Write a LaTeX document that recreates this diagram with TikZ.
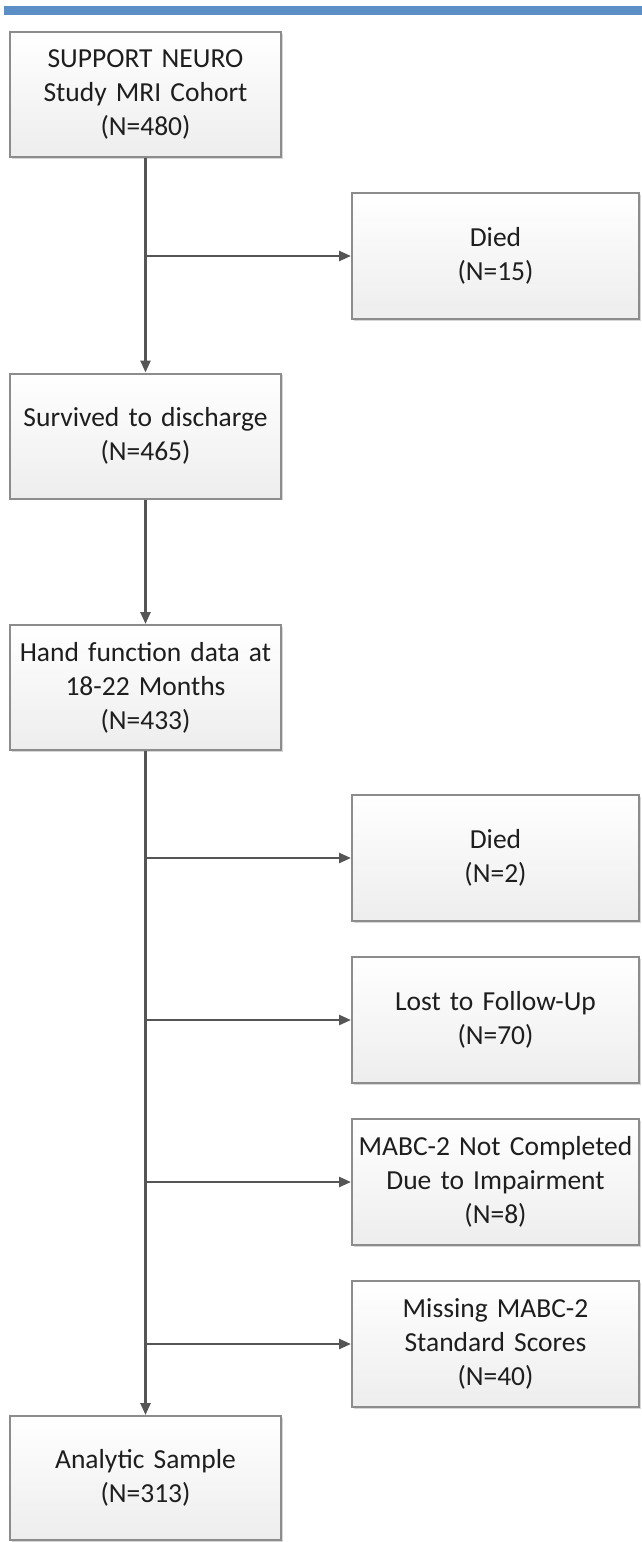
\documentclass[tikz,border=0pt]{standalone}
\usepackage{fontspec}
\setmainfont{Carlito}
\usetikzlibrary{arrows.meta,positioning,shadows}
\definecolor{barblue}{RGB}{91,143,197}
\definecolor{linegray}{RGB}{85,85,85}
\definecolor{boxedge}{RGB}{140,140,140}
\definecolor{txt}{RGB}{30,30,30}
\begin{document}
\begin{tikzpicture}[x=0.5pt,y=-0.5pt,
  box/.style={draw=boxedge, line width=1pt, top color=white, bottom color=black!7,
    drop shadow={shadow xshift=0.8pt, shadow yshift=-0.8pt, opacity=0.35, fill=black!45},
    align=center, inner sep=2pt, text=txt,
    font=\fontsize{13.75pt}{17pt}\selectfont},
  lbox/.style={box, minimum width=135.5pt, minimum height=62.5pt, text width=130pt},
  rbox/.style={box, minimum width=143.5pt, minimum height=63pt, text width=138pt},
  conn/.style={draw=linegray, line width=1.25pt},
  arr/.style={conn, -{Triangle[length=6pt,width=5pt]}}]
\useasboundingbox (0,0) rectangle (642,1542);
\fill[barblue] (4,6) rectangle (642,15);
\node[lbox] (a) at (145.5,94.5) {SUPPORT NEURO\\Study MRI Cohort\\(N=480)};
\node[rbox] (d1) at (495.5,256) {Died\\(N=15)};
\node[lbox] (s) at (145.5,436) {Survived to discharge\\(N=465)};
\node[lbox] (h) at (145.5,687.5) {Hand function data at\\18-22 Months\\(N=433)};
\node[rbox] (d2) at (495.5,858) {Died\\(N=2)};
\node[rbox] (l) at (495.5,1020) {Lost to Follow-Up\\(N=70)};
\node[rbox] (m) at (495.5,1182) {MABC-2 Not Completed\\Due to Impairment\\(N=8)};
\node[rbox] (ms) at (495.5,1344) {Missing MABC-2\\Standard Scores\\(N=40)};
\node[lbox, minimum height=62pt] (an) at (145.5,1478) {Analytic Sample\\(N=313)};
\draw[arr] (a.south) -- (s.north);
\draw[arr] (a.south |- d1.west) -- (d1.west);
\draw[arr] (s.south) -- (h.north);
\draw[arr] (h.south) -- (an.north);
\draw[arr] (h.south |- d2.west) -- (d2.west);
\draw[arr] (h.south |- l.west) -- (l.west);
\draw[arr] (h.south |- m.west) -- (m.west);
\draw[arr] (h.south |- ms.west) -- (ms.west);
\end{tikzpicture}
\end{document}
